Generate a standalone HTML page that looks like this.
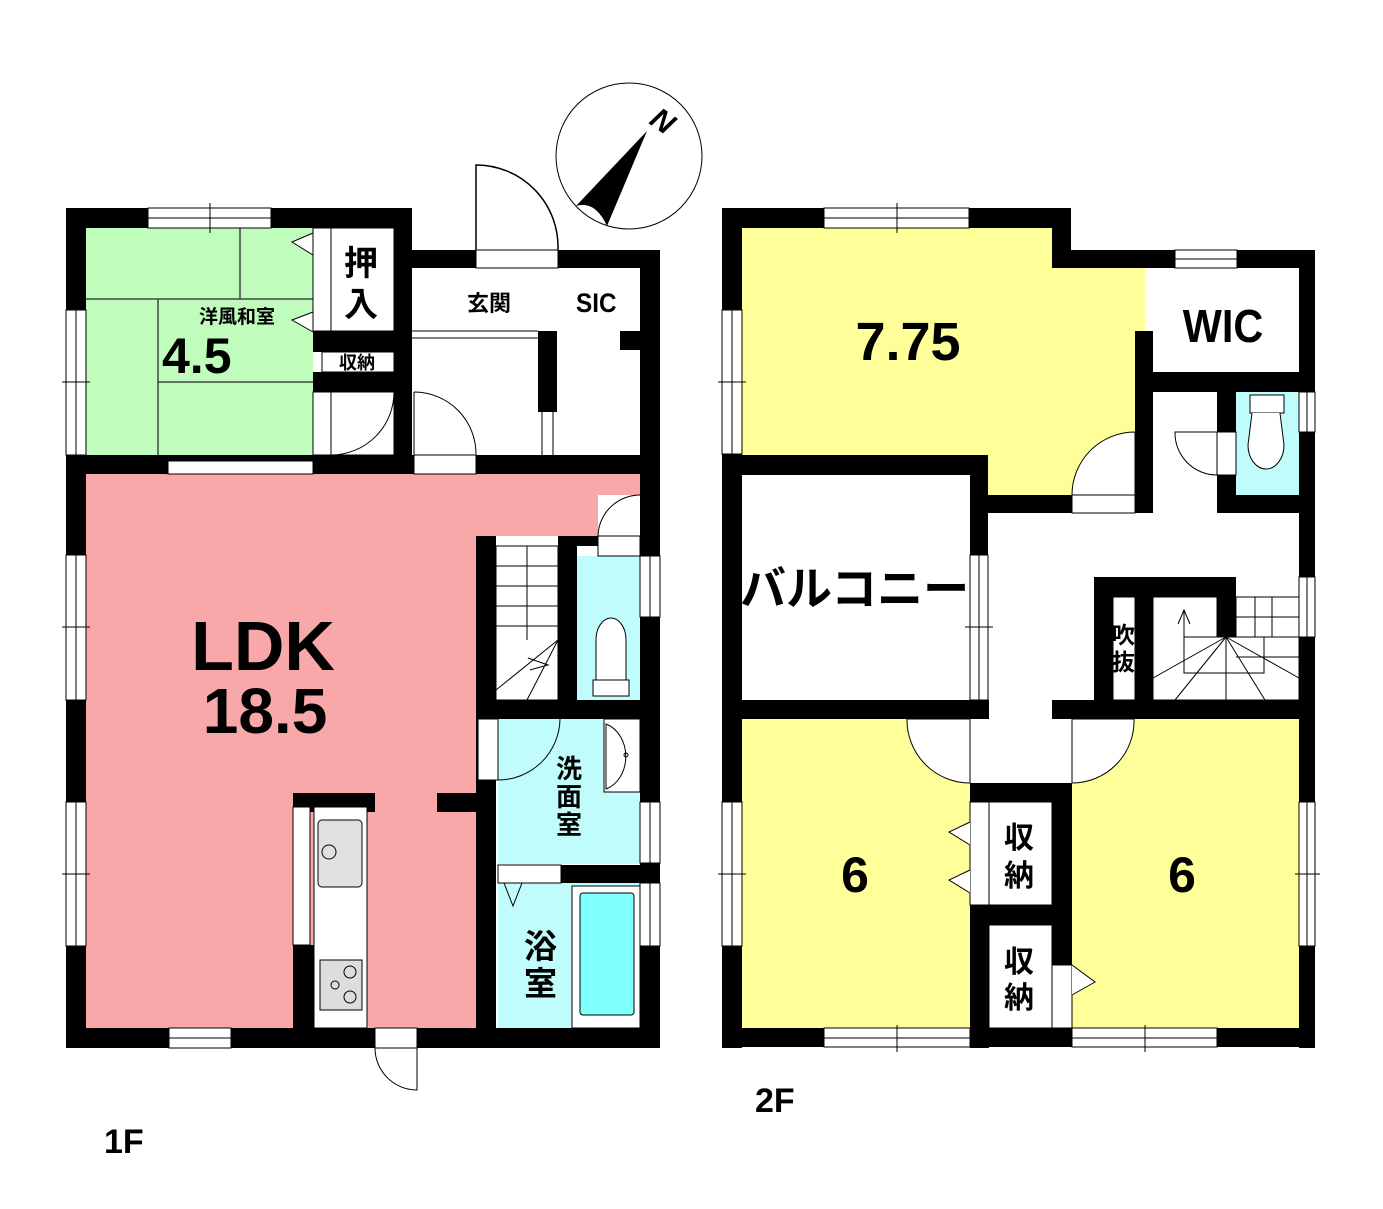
<!DOCTYPE html>
<html><head><meta charset="utf-8"><style>
html,body{margin:0;padding:0;background:#fff}
svg{display:block}
text{font-family:"Liberation Sans","Noto Sans CJK JP",sans-serif;font-weight:bold;fill:#000}
</style></head><body>
<svg width="1383" height="1209" viewBox="0 0 1383 1209" xmlns="http://www.w3.org/2000/svg">
<rect width="1383" height="1209" fill="#fff"/>
<circle cx="629" cy="156" r="73" fill="#fff" stroke="#000" stroke-width="1"/>
<path d="M647,131 L576,206 Q595,200 607,226 Z" fill="#000"/>
<text x="0" y="0" font-size="30" font-style="italic" font-weight="normal" font-family="Liberation Serif,serif" transform="translate(648,123) rotate(35)">N</text>
<path d="M476,250 L476,165 A82,82 0 0 1 558,250" fill="none" stroke="#000" stroke-width="1.5"/>

<rect x="86" y="228" width="227" height="227" fill="#c0fcbc"/>
<rect x="86" y="474" width="554" height="554" fill="#f9a8a9"/>
<rect x="476" y="536" width="164" height="492" fill="#fff"/>
<rect x="598" y="495" width="42" height="41" fill="#fff"/>
<rect x="577" y="556" width="63" height="144" fill="#c0fcfc"/>
<rect x="498" y="719" width="142" height="145" fill="#c0fcfc"/>
<rect x="498" y="883" width="142" height="145" fill="#c0fcfc"/>
<g stroke="#444" stroke-width="1.5">
<line x1="240" y1="228" x2="240" y2="299"/><line x1="86" y1="299" x2="313" y2="299"/>
<line x1="158" y1="299" x2="158" y2="455"/><line x1="158" y1="382" x2="313" y2="382"/>
</g>
<path d="M313,233 L292,242 L313,255 M313,312 L292,320 L313,332" fill="#fff" stroke="#000" stroke-width="1"/>
<g fill="#000">
<rect x="66" y="208" width="346" height="20"/>
<rect x="66" y="208" width="20" height="840"/>
<rect x="394" y="208" width="18" height="266"/>
<rect x="412" y="250" width="248" height="18"/>
<rect x="640" y="250" width="20" height="798"/>
<rect x="313" y="331" width="81" height="21"/>
<rect x="313" y="372" width="81" height="20"/>
<rect x="313" y="228" width="18" height="10"/>
<rect x="66" y="455" width="594" height="19"/>
<rect x="538" y="331" width="19" height="81"/>
<rect x="620" y="331" width="20" height="19"/>
<rect x="476" y="536" width="20" height="512"/>
<rect x="558" y="536" width="19" height="164"/>
<rect x="558" y="536" width="40" height="10"/>
<rect x="476" y="700" width="184" height="19"/>
<rect x="561" y="865" width="99" height="18"/>
<rect x="66" y="1028" width="594" height="20"/>
<rect x="293" y="793" width="82" height="19"/>
<rect x="437" y="793" width="39" height="19"/>
<rect x="293" y="945" width="21" height="103"/>
</g>
<g fill="#fff" stroke="#000" stroke-width="1">
<rect x="148" y="208" width="123" height="20"/>
<rect x="66" y="310" width="20" height="145"/>
<rect x="66" y="555" width="20" height="145"/>
<rect x="66" y="802" width="20" height="144"/>
<rect x="476" y="250" width="82" height="18"/>
<rect x="168" y="461" width="145" height="13"/>
<rect x="414" y="455" width="62" height="19"/>
<rect x="640" y="556" width="20" height="61"/>
<rect x="640" y="802" width="20" height="61"/>
<rect x="640" y="883" width="20" height="63"/>
<rect x="169" y="1028" width="62" height="20"/>
<rect x="375" y="1028" width="42" height="20"/>
<rect x="478" y="719" width="20" height="61"/>
<rect x="498" y="865" width="63" height="18"/>
<rect x="293" y="807" width="17" height="138"/>
<rect x="314" y="807" width="53" height="221"/>
<rect x="331" y="228" width="63" height="103"/>
<rect x="313" y="228" width="18" height="103" fill="#fff"/>
<rect x="322" y="352" width="72" height="20"/>
<rect x="313" y="392" width="81" height="63"/>
<rect x="598" y="536" width="42" height="20"/>
<rect x="604" y="719" width="36" height="73"/>
<rect x="572" y="886" width="68" height="142"/>
</g>
<g stroke="#000" stroke-width="1" fill="none">
<line x1="148" y1="218" x2="271" y2="218"/><line x1="210" y1="203" x2="210" y2="233"/>
<line x1="76" y1="310" x2="76" y2="455"/><line x1="62" y1="382" x2="90" y2="382"/>
<line x1="76" y1="555" x2="76" y2="700"/><line x1="62" y1="627" x2="90" y2="627"/>
<line x1="76" y1="802" x2="76" y2="946"/><line x1="62" y1="874" x2="90" y2="874"/>
<line x1="650" y1="556" x2="650" y2="617"/><line x1="650" y1="802" x2="650" y2="863"/><line x1="650" y1="883" x2="650" y2="946"/>
<line x1="169" y1="1038" x2="231" y2="1038"/>
<line x1="96" y1="458" x2="240" y2="458" stroke-dasharray="2,2" stroke-width="2"/>
<line x1="412" y1="331" x2="538" y2="331"/><line x1="412" y1="338" x2="538" y2="338"/>
<line x1="542" y1="412" x2="542" y2="455"/><line x1="553" y1="412" x2="553" y2="455"/>
<path d="M331,455 L331,392 M331,455 A63,63 0 0 0 394,392"/>
<path d="M414,392 L414,455 M414,392 A62,62 0 0 1 476,455"/>
<path d="M640,495 A42,42 0 0 0 598,536"/>
<path d="M498,719 L498,780 A62,62 0 0 0 560,719"/>
<path d="M417,1048 L417,1090 A42,42 0 0 1 375,1048"/>
<path d="M504,883 L513,906 L522,883"/>
<rect x="496" y="546" width="62" height="154"/>
<line x1="496" y1="566" x2="558" y2="566"/><line x1="496" y1="586" x2="558" y2="586"/>
<line x1="496" y1="606" x2="558" y2="606"/><line x1="496" y1="626" x2="558" y2="626"/>
<line x1="527" y1="546" x2="527" y2="640"/>
<path d="M496,690 L558,640 L527,700 M528,658 L548,665 L530,670"/>
<path d="M596,680 L596,640 A15,22 0 0 1 626,640 L626,680 Z" fill="#fff"/>
<rect x="593" y="680" width="36" height="16" fill="#fff"/>
<path d="M606,724 A28,34 0 0 1 606,789 Z" fill="#fff"/>
<circle cx="626" cy="755" r="2"/>
<rect x="318" y="820" width="44" height="67" rx="4" fill="#e0e0e0"/>
<circle cx="329" cy="852" r="7" fill="#e0e0e0"/>
<rect x="320" y="960" width="42" height="50" fill="#ddd"/>
<circle cx="350" cy="972" r="6"/><circle cx="350" cy="997" r="6"/><circle cx="335" cy="985" r="4"/>
</g>
<rect x="580" y="893" width="54" height="122" rx="3" fill="#80ffff" stroke="#000" stroke-width="1"/>

<path d="M742,228 L1052,228 L1052,268 L1145,268 L1145,331 L1135,331 L1135,495 L988,495 L988,455 L742,455 Z" fill="#ffff99"/>
<rect x="742" y="719" width="228" height="309" fill="#ffff99"/>
<rect x="1072" y="719" width="227" height="309" fill="#ffff99"/>
<rect x="1236" y="392" width="63" height="103" fill="#c0fcfc"/>
<g fill="#000">
<rect x="722" y="208" width="349" height="20"/>
<rect x="722" y="208" width="20" height="840"/>
<rect x="1052" y="208" width="19" height="60"/>
<rect x="1052" y="250" width="263" height="18"/>
<rect x="1299" y="250" width="16" height="798"/>
<rect x="1135" y="331" width="18" height="182"/>
<rect x="1135" y="372" width="180" height="20"/>
<rect x="1217" y="392" width="19" height="121"/>
<rect x="1217" y="495" width="98" height="18"/>
<rect x="722" y="455" width="266" height="20"/>
<rect x="970" y="455" width="18" height="100"/>
<rect x="988" y="495" width="147" height="18"/>
<rect x="1094" y="577" width="142" height="20"/>
<rect x="1094" y="577" width="19" height="123"/>
<rect x="1135" y="577" width="18" height="123"/>
<rect x="1217" y="577" width="19" height="60"/>
<rect x="722" y="700" width="267" height="19"/>
<rect x="1052" y="700" width="263" height="19"/>
<rect x="970" y="783" width="102" height="19"/>
<rect x="970" y="905" width="102" height="20"/>
<rect x="970" y="783" width="19" height="265"/>
<rect x="1052" y="783" width="20" height="182"/>
<rect x="722" y="1028" width="593" height="19"/>
</g>
<g fill="#fff" stroke="#000" stroke-width="1">
<rect x="824" y="208" width="145" height="20"/>
<rect x="1175" y="250" width="62" height="18"/>
<rect x="722" y="310" width="20" height="144"/>
<rect x="722" y="802" width="20" height="144"/>
<rect x="1299" y="802" width="16" height="144"/>
<rect x="1299" y="392" width="16" height="40"/>
<rect x="1299" y="577" width="16" height="60"/>
<rect x="970" y="555" width="18" height="145"/>
<rect x="1072" y="495" width="63" height="18"/>
<rect x="1217" y="432" width="19" height="43"/>
<rect x="824" y="1028" width="146" height="19"/>
<rect x="1072" y="1028" width="145" height="19"/>
<rect x="970" y="802" width="19" height="103"/>
<rect x="989" y="802" width="63" height="103"/>
<rect x="989" y="925" width="63" height="103"/>
<rect x="1052" y="965" width="20" height="63"/>
<rect x="1113" y="597" width="22" height="103"/>
<rect x="1153" y="597" width="146" height="103"/>
<rect x="1217" y="597" width="19" height="40" fill="#000"/>
</g>
<g stroke="#000" stroke-width="1" fill="none">
<line x1="824" y1="218" x2="969" y2="218"/><line x1="897" y1="203" x2="897" y2="233"/>
<line x1="1175" y1="259" x2="1237" y2="259"/>
<line x1="732" y1="310" x2="732" y2="454"/><line x1="718" y1="382" x2="746" y2="382"/>
<line x1="732" y1="802" x2="732" y2="946"/><line x1="718" y1="874" x2="746" y2="874"/>
<line x1="1307" y1="802" x2="1307" y2="946"/><line x1="1295" y1="874" x2="1320" y2="874"/>
<line x1="1307" y1="392" x2="1307" y2="432"/><line x1="1307" y1="577" x2="1307" y2="637"/>
<line x1="979" y1="555" x2="979" y2="700"/><line x1="965" y1="627" x2="993" y2="627"/>
<line x1="824" y1="1038" x2="970" y2="1038"/><line x1="897" y1="1025" x2="897" y2="1052"/>
<line x1="1072" y1="1038" x2="1217" y2="1038"/><line x1="1145" y1="1025" x2="1145" y2="1052"/>
<line x1="730" y1="475" x2="730" y2="700"/><line x1="735" y1="475" x2="735" y2="700"/>
<path d="M1135,432 L1135,495 L1072,495 A63,63 0 0 1 1135,432 Z" fill="#fff"/>
<path d="M1217,432 L1175,432 A42,42 0 0 0 1217,475 Z" fill="#fff"/>
<path d="M907,719 A63,63 0 0 0 970,783 L970,719 Z" fill="#fff"/>
<path d="M1134,719 A62,62 0 0 1 1072,783 L1072,719 Z" fill="#fff"/>
<path d="M970,822 L949,832 L970,845 M970,870 L949,880 L970,893" fill="#fff"/>
<path d="M1072,965 L1095,982 L1072,995" fill="#fff"/>
<line x1="1236" y1="617" x2="1299" y2="617"/><line x1="1236" y1="637" x2="1299" y2="637"/>
<line x1="1236" y1="657" x2="1299" y2="657"/><line x1="1272" y1="597" x2="1272" y2="637"/>
<line x1="1255" y1="597" x2="1255" y2="637"/>
<path d="M1226,637 L1153,678 M1226,637 L1175,700 M1226,637 L1226,700 M1226,637 L1265,700 M1226,637 L1299,678"/>
<path d="M1184,652 L1184,610 M1178,624 L1184,610 L1190,624"/>
<rect x="1184" y="637" width="80" height="36"/>
<rect x="1250" y="395" width="34" height="18" fill="#fff"/>
<path d="M1252,413 L1248,445 A15,20 0 0 0 1284,445 L1280,413" fill="#fff"/>
</g>

<text x="199" y="323" font-size="19">洋風和室</text>
<text x="162" y="373" font-size="50">4.5</text>
<text x="344" y="275" font-size="34">押</text>
<text x="344" y="316" font-size="34">入</text>
<text x="339" y="369" font-size="18">収納</text>
<text x="467" y="311" font-size="22">玄関</text>
<text x="576" y="312" font-size="27" transform="translate(576,0) scale(0.9,1) translate(-576,0)">SIC</text>
<text x="263" y="670" font-size="70" text-anchor="middle">LDK</text>
<text x="265" y="733" font-size="64" text-anchor="middle">18.5</text>
<text x="556" y="778" font-size="26">洗</text>
<text x="556" y="806" font-size="26">面</text>
<text x="556" y="834" font-size="26">室</text>
<text x="524" y="958" font-size="33">浴</text>
<text x="524" y="995" font-size="33">室</text>
<text x="104" y="1153" font-size="34" font-weight="normal">1F</text>
<text x="908" y="360" font-size="54" text-anchor="middle">7.75</text>
<text x="1223" y="342" font-size="46" text-anchor="middle" transform="translate(1223,0) scale(0.9,1) translate(-1223,0)">WIC</text>
<text x="740" y="605" font-size="46">バルコニー</text>
<text x="1112" y="643" font-size="23">吹</text>
<text x="1112" y="670" font-size="23">抜</text>
<text x="855" y="892" font-size="50" text-anchor="middle">6</text>
<text x="1182" y="892" font-size="50" text-anchor="middle">6</text>
<text x="1004" y="848" font-size="30">収</text>
<text x="1004" y="886" font-size="30">納</text>
<text x="1004" y="972" font-size="30">収</text>
<text x="1004" y="1008" font-size="30">納</text>
<text x="755" y="1112" font-size="34" font-weight="normal">2F</text>
</svg>
</body></html>
